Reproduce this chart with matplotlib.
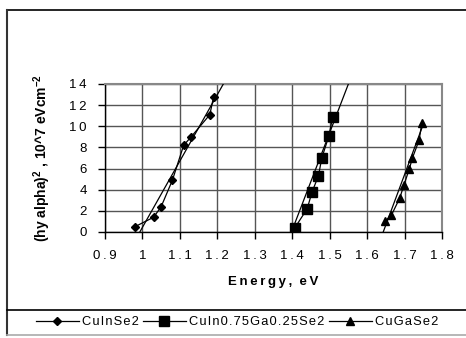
import matplotlib
matplotlib.use("Agg")
import matplotlib.pyplot as plt
from matplotlib.lines import Line2D
import numpy as np

plt.rcParams['font.family'] = ['Liberation Sans', 'DejaVu Sans']
plt.rcParams['mathtext.fontset'] = 'custom'
plt.rcParams['mathtext.rm'] = 'Liberation Sans'
plt.rcParams['mathtext.bf'] = 'Liberation Sans:bold'

# Data
cuinse2_x = [0.98, 1.03, 1.05, 1.08, 1.11, 1.13, 1.18, 1.19]
cuinse2_y = [0.5, 1.4, 2.4, 4.9, 8.2, 9.0, 11.1, 12.8]

cuingase_x = [1.407, 1.440, 1.453, 1.470, 1.479, 1.498, 1.508]
cuingase_y = [0.4, 2.2, 3.8, 5.3, 7.0, 9.1, 10.9]

cugase2_x = [1.648, 1.665, 1.687, 1.698, 1.713, 1.721, 1.739, 1.746]
cugase2_y = [1.0, 1.6, 3.2, 4.4, 6.0, 7.0, 8.7, 10.3]

# Linear trend lines (end points)
fit_cuinse2_x = [0.993, 1.216]
fit_cuinse2_y = [0, 14]
fit_cuingase_x = [1.398, 1.550]
fit_cuingase_y = [0, 14]
fit_cugase2_x = [1.643, 1.748]
fit_cugase2_y = [0, 10.0]

labels = ['CuInSe2', 'CuIn0.75Ga0.25Se2', 'CuGaSe2']
xticks = [0.9, 1.0, 1.1, 1.2, 1.3, 1.4, 1.5, 1.6, 1.7, 1.8]
xticklabels = ['0.9', '1', '1.1', '1.2', '1.3', '1.4', '1.5', '1.6', '1.7', '1.8']
yticks = [0, 2, 4, 6, 8, 10, 12, 14]
yticklabels = ['0', '2', '4', '6', '8', '10', '12', '14']

THIN = '\u2009'
HAIR = '\u200a'


def spaced(s, sep):
    return sep.join(s)


W, H = 466, 338
fig = plt.figure(figsize=(W / 100, H / 100), dpi=100)
ax = fig.add_axes([105 / W, (H - 232) / H, (442 - 105) / W, (232 - 84) / H])

lw = 0.9
h1, = ax.plot(cuinse2_x, cuinse2_y, color='black', lw=lw, marker='D', ms=4, zorder=3)
h2, = ax.plot(cuingase_x, cuingase_y, color='black', lw=lw, marker='s', ms=7, zorder=3)
h3, = ax.plot(cugase2_x, cugase2_y, color='black', lw=lw, marker='^', ms=5.5, zorder=3)
ax.plot(fit_cuinse2_x, fit_cuinse2_y, color='black', lw=lw, zorder=3)
ax.plot(fit_cuingase_x, fit_cuingase_y, color='black', lw=lw, zorder=3)
ax.plot(fit_cugase2_x, fit_cugase2_y, color='black', lw=lw, zorder=3)

ax.set_xlim(0.9, 1.8)
ax.set_ylim(0, 14)
ax.set_xticks(xticks)
ax.set_xticklabels([spaced(t, THIN) for t in xticklabels])
ax.set_yticks(yticks)
ax.set_yticklabels([spaced(t, THIN) for t in yticklabels])
ax.grid(True, color='#555555', lw=1.0)
ax.set_axisbelow(True)
for s in ['top', 'right']:
    ax.spines[s].set_color('#888888')
    ax.spines[s].set_linewidth(1.5)
for s in ['left', 'bottom']:
    ax.spines[s].set_color('black')
    ax.spines[s].set_linewidth(1.0)
ax.tick_params(axis='both', direction='out', length=5, width=1, labelsize=9.5, pad=8)

ax.set_xlabel(spaced('Energy,', THIN) + '  ' + spaced('eV', THIN), fontsize=9.5,
              fontweight='bold', labelpad=10)
ax.set_ylabel(r'(hy alpha)$^{\mathbf{2}}$ , 10^7 eVcm$^{\mathbf{-2}}$', fontsize=10,
              fontweight='bold', labelpad=12)

# Outer frame
def fline(x0, y0, x1, y1, color='black', lw=1.2):
    fig.add_artist(Line2D([x0 / W, x1 / W], [1 - y0 / H, 1 - y1 / H], color=color, lw=lw,
                          transform=fig.transFigure))

fline(7, 10, W, 10)
fline(7, 10, 7, 335, color='#333333', lw=1.5)
fline(7, 310, W, 310)
fline(7, 335, W, 335, color='#aaaaaa')

fig.legend([h1, h2, h3], [spaced(l, HAIR) for l in labels], loc='center',
           bbox_to_anchor=(237 / W, 1 - 322 / H), ncol=3,
           frameon=False, fontsize=9.3, handlelength=3.3, handletextpad=0.25, columnspacing=0.35,
           borderpad=0, borderaxespad=0)

fig.savefig('out.png', dpi=100)
